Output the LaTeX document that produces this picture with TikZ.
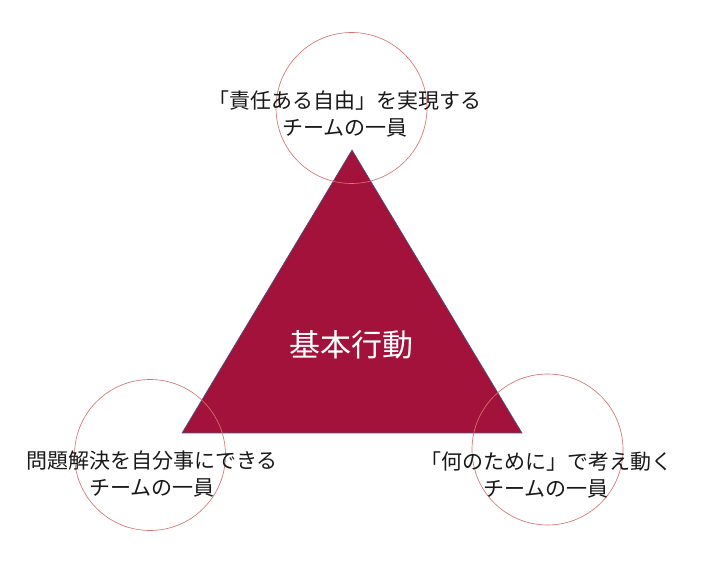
\documentclass[tikz,border=0pt]{standalone}
\usepackage{fontspec}
\setmainfont{Noto Sans CJK JP}
\definecolor{crim}{HTML}{A3123A}
\definecolor{edgeblue}{HTML}{3F5A8C}
\definecolor{ring}{HTML}{D47474}
\begin{document}
\begin{tikzpicture}[x=1pt,y=-1pt,
  ringst/.style={draw=ring,line width=0.65pt},
  lbl/.style={align=center,text=black!90,font=\fontsize{21pt}{27pt}\selectfont,inner sep=0pt},
  ]
\useasboundingbox (0,0) rectangle (702,561);
\fill[white] (0,0) rectangle (702,561);
\coordinate (apex) at (352,150);
\coordinate (bl) at (182,433);
\coordinate (br) at (522,433);
\filldraw[fill=crim,draw=edgeblue,line width=0.6pt] (apex) -- (br) -- (bl) -- cycle;
\node[circle,ringst,minimum size=151pt,inner sep=0pt] (ctop) at (351.5,108) {};
\node[circle,ringst,minimum size=151pt,inner sep=0pt] (cleft) at (150,455) {};
\node[circle,ringst,minimum size=151pt,inner sep=0pt] (cright) at (547.5,449.5) {};
\node[lbl] (ttop) at (345,113.5) {「責任ある自由」を実現する\\チームの一員};
\node[lbl] (tleft) at (152,474.5) {問題解決を自分事にできる\\チームの一員};
\node[lbl] (tright) at (546,475) {「何のために」で考え動く\\チームの一員};
\node[text=white,font=\fontsize{31pt}{36pt}\selectfont,inner sep=0pt] (tcenter) at (351,345) {基本行動};
\end{tikzpicture}
\end{document}
